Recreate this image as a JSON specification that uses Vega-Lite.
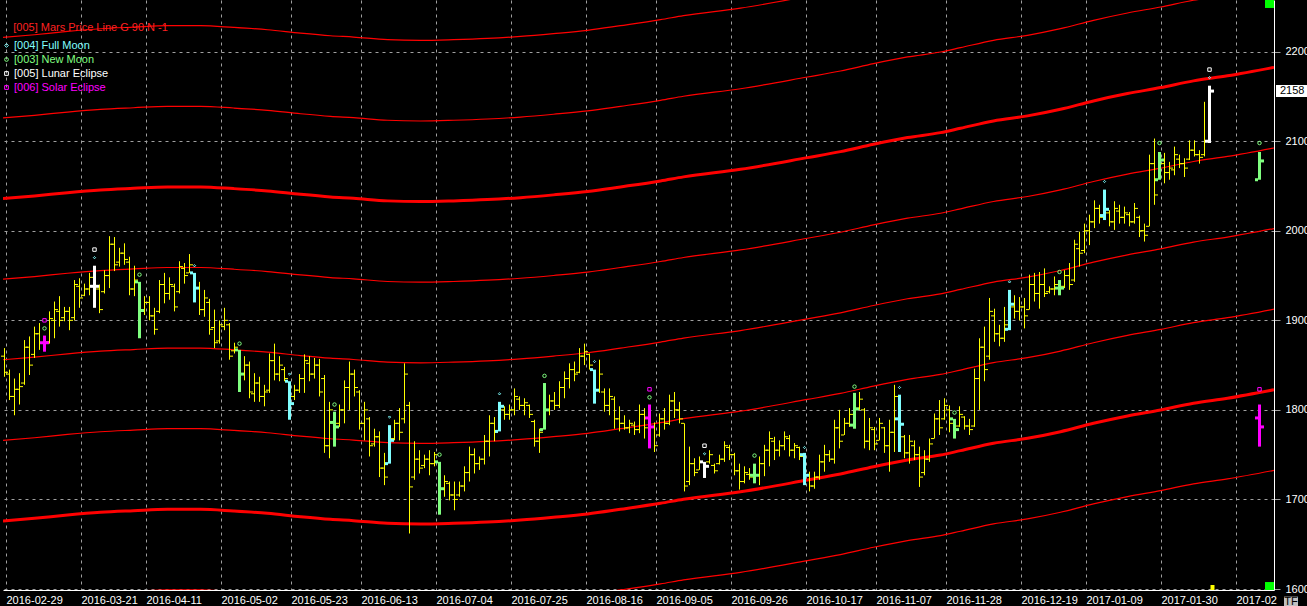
{
"$schema":"https://vega.github.io/schema/vega-lite/v6.json",
"width":1271,"height":590,"autosize":"none",
"padding":{"left":3,"top":0,"right":33,"bottom":16},
"background":"#000000",
"config":{"view":{"stroke":null},"font":"Liberation Sans","legend":{"labelColor":"#ffffff","titleColor":"#ff2020"}},
"datasets":{
"bars":[
{"i":0,"o":1860,"h":1869,"l":1837,"c":1842,"t":"y"},{"i":1,"o":1840,"h":1845,"l":1811,"c":1815,"t":"y"},{"i":2,"o":1815,"h":1835,"l":1794,"c":1823,"t":"y"},{"i":3,"o":1823,"h":1841,"l":1806,"c":1826,"t":"y"},{"i":4,"o":1830,"h":1878,"l":1828,"c":1870,"t":"y"},{"i":5,"o":1870,"h":1882,"l":1839,"c":1850,"t":"y"},{"i":6,"o":1862,"h":1893,"l":1858,"c":1885,"t":"y"},{"i":7,"o":1885,"h":1897,"l":1867,"c":1875,"t":"y"},{"i":8,"o":1875,"h":1883,"l":1865,"c":1875,"t":"s"},{"i":9,"o":1876,"h":1910,"l":1874,"c":1902,"t":"y"},
{"i":10,"o":1900,"h":1921,"l":1880,"c":1912,"t":"y"},{"i":11,"o":1910,"h":1927,"l":1893,"c":1900,"t":"y"},{"i":12,"o":1903,"h":1915,"l":1899,"c":1910,"t":"y"},{"i":13,"o":1910,"h":1915,"l":1889,"c":1900,"t":"y"},{"i":14,"o":1903,"h":1945,"l":1900,"c":1940,"t":"y"},{"i":15,"o":1938,"h":1947,"l":1914,"c":1925,"t":"y"},{"i":16,"o":1928,"h":1941,"l":1927,"c":1935,"t":"y"},{"i":17,"o":1935,"h":1953,"l":1928,"c":1948,"t":"y"},{"i":18,"o":1938,"h":1961,"l":1914,"c":1938,"t":"l"},{"i":19,"o":1935,"h":1940,"l":1908,"c":1912,"t":"y"},
{"i":20,"o":1932,"h":1956,"l":1930,"c":1950,"t":"y"},{"i":21,"o":1950,"h":1994,"l":1936,"c":1985,"t":"y"},{"i":22,"o":1985,"h":1993,"l":1955,"c":1962,"t":"y"},{"i":23,"o":1965,"h":1981,"l":1960,"c":1975,"t":"y"},{"i":24,"o":1975,"h":1986,"l":1962,"c":1968,"t":"y"},{"i":25,"o":1965,"h":1971,"l":1928,"c":1935,"t":"y"},{"i":26,"o":1935,"h":1961,"l":1927,"c":1945,"t":"y"},{"i":27,"o":1943,"h":1943,"l":1880,"c":1911,"t":"n"},{"i":28,"o":1912,"h":1927,"l":1906,"c":1920,"t":"y"},{"i":29,"o":1920,"h":1927,"l":1900,"c":1905,"t":"y"},
{"i":30,"o":1905,"h":1914,"l":1884,"c":1890,"t":"y"},{"i":31,"o":1910,"h":1945,"l":1908,"c":1940,"t":"y"},{"i":32,"o":1940,"h":1953,"l":1919,"c":1930,"t":"y"},{"i":33,"o":1930,"h":1948,"l":1923,"c":1940,"t":"y"},{"i":34,"o":1938,"h":1941,"l":1910,"c":1915,"t":"y"},{"i":35,"o":1932,"h":1966,"l":1930,"c":1960,"t":"y"},{"i":36,"o":1958,"h":1964,"l":1941,"c":1950,"t":"y"},{"i":37,"o":1953,"h":1974,"l":1953,"c":1962,"t":"y"},{"i":38,"o":1953,"h":1953,"l":1920,"c":1936,"t":"f"},{"i":39,"o":1936,"h":1943,"l":1906,"c":1912,"t":"y"},
{"i":40,"o":1912,"h":1934,"l":1904,"c":1925,"t":"y"},{"i":41,"o":1920,"h":1924,"l":1884,"c":1890,"t":"y"},{"i":42,"o":1892,"h":1912,"l":1869,"c":1875,"t":"y"},{"i":43,"o":1877,"h":1900,"l":1874,"c":1895,"t":"y"},{"i":44,"o":1893,"h":1914,"l":1889,"c":1900,"t":"y"},{"i":45,"o":1895,"h":1897,"l":1856,"c":1860,"t":"y"},{"i":46,"o":1866,"h":1875,"l":1863,"c":1870,"t":"y"},{"i":47,"o":1867,"h":1867,"l":1820,"c":1840,"t":"n"},{"i":48,"o":1840,"h":1860,"l":1833,"c":1850,"t":"y"},{"i":49,"o":1850,"h":1854,"l":1813,"c":1820,"t":"y"},
{"i":50,"o":1818,"h":1841,"l":1809,"c":1830,"t":"y"},{"i":51,"o":1830,"h":1837,"l":1809,"c":1815,"t":"y"},{"i":52,"o":1815,"h":1828,"l":1804,"c":1820,"t":"y"},{"i":53,"o":1822,"h":1863,"l":1819,"c":1855,"t":"y"},{"i":54,"o":1855,"h":1874,"l":1833,"c":1840,"t":"y"},{"i":55,"o":1840,"h":1860,"l":1832,"c":1850,"t":"y"},{"i":56,"o":1845,"h":1848,"l":1832,"c":1835,"t":"y"},{"i":57,"o":1832,"h":1832,"l":1789,"c":1807,"t":"f"},{"i":58,"o":1815,"h":1828,"l":1811,"c":1822,"t":"y"},{"i":59,"o":1822,"h":1840,"l":1819,"c":1835,"t":"y"},
{"i":60,"o":1835,"h":1862,"l":1819,"c":1855,"t":"y"},{"i":61,"o":1852,"h":1860,"l":1832,"c":1840,"t":"y"},{"i":62,"o":1840,"h":1858,"l":1835,"c":1850,"t":"y"},{"i":63,"o":1850,"h":1857,"l":1815,"c":1820,"t":"y"},{"i":64,"o":1835,"h":1839,"l":1752,"c":1760,"t":"y"},{"i":65,"o":1760,"h":1809,"l":1746,"c":1800,"t":"y"},{"i":66,"o":1786,"h":1798,"l":1759,"c":1781,"t":"n"},{"i":67,"o":1785,"h":1806,"l":1781,"c":1800,"t":"y"},{"i":68,"o":1800,"h":1833,"l":1785,"c":1825,"t":"y"},{"i":69,"o":1825,"h":1854,"l":1800,"c":1840,"t":"y"},
{"i":70,"o":1840,"h":1845,"l":1815,"c":1825,"t":"y"},{"i":71,"o":1820,"h":1822,"l":1778,"c":1785,"t":"y"},{"i":72,"o":1785,"h":1809,"l":1766,"c":1800,"t":"y"},{"i":73,"o":1790,"h":1792,"l":1748,"c":1760,"t":"y"},{"i":74,"o":1762,"h":1779,"l":1759,"c":1770,"t":"y"},{"i":75,"o":1770,"h":1776,"l":1725,"c":1735,"t":"y"},{"i":76,"o":1735,"h":1752,"l":1716,"c":1725,"t":"y"},{"i":77,"o":1740,"h":1783,"l":1740,"c":1766,"t":"f"},{"i":78,"o":1768,"h":1789,"l":1766,"c":1785,"t":"y"},{"i":79,"o":1785,"h":1802,"l":1766,"c":1775,"t":"y"},
{"i":80,"o":1790,"h":1852,"l":1785,"c":1840,"t":"y"},{"i":81,"o":1805,"h":1809,"l":1662,"c":1714,"t":"y"},{"i":82,"o":1725,"h":1765,"l":1722,"c":1745,"t":"y"},{"i":83,"o":1745,"h":1755,"l":1729,"c":1735,"t":"y"},{"i":84,"o":1738,"h":1750,"l":1735,"c":1745,"t":"y"},{"i":85,"o":1745,"h":1755,"l":1727,"c":1740,"t":"y"},{"i":86,"o":1740,"h":1753,"l":1737,"c":1750,"t":"y"},{"i":87,"o":1742,"h":1742,"l":1683,"c":1712,"t":"n"},{"i":88,"o":1712,"h":1727,"l":1703,"c":1720,"t":"y"},{"i":89,"o":1718,"h":1720,"l":1699,"c":1705,"t":"y"},
{"i":90,"o":1705,"h":1720,"l":1688,"c":1700,"t":"y"},{"i":91,"o":1705,"h":1720,"l":1703,"c":1715,"t":"y"},{"i":92,"o":1715,"h":1737,"l":1709,"c":1730,"t":"y"},{"i":93,"o":1730,"h":1759,"l":1720,"c":1750,"t":"y"},{"i":94,"o":1750,"h":1757,"l":1729,"c":1740,"t":"y"},{"i":95,"o":1740,"h":1748,"l":1733,"c":1745,"t":"y"},{"i":96,"o":1745,"h":1772,"l":1739,"c":1765,"t":"y"},{"i":97,"o":1765,"h":1794,"l":1748,"c":1785,"t":"y"},{"i":98,"o":1785,"h":1792,"l":1765,"c":1775,"t":"y"},{"i":99,"o":1776,"h":1809,"l":1776,"c":1804,"t":"f"},
{"i":100,"o":1800,"h":1804,"l":1789,"c":1795,"t":"y"},{"i":101,"o":1795,"h":1806,"l":1789,"c":1800,"t":"y"},{"i":102,"o":1800,"h":1824,"l":1794,"c":1815,"t":"y"},{"i":103,"o":1812,"h":1815,"l":1800,"c":1805,"t":"y"},{"i":104,"o":1805,"h":1813,"l":1794,"c":1808,"t":"y"},{"i":105,"o":1805,"h":1806,"l":1791,"c":1795,"t":"y"},{"i":106,"o":1787,"h":1789,"l":1759,"c":1765,"t":"y"},{"i":107,"o":1765,"h":1779,"l":1752,"c":1775,"t":"y"},{"i":108,"o":1778,"h":1830,"l":1778,"c":1800,"t":"n"},{"i":109,"o":1800,"h":1817,"l":1794,"c":1810,"t":"y"},
{"i":110,"o":1810,"h":1820,"l":1800,"c":1805,"t":"y"},{"i":111,"o":1805,"h":1832,"l":1802,"c":1825,"t":"y"},{"i":112,"o":1825,"h":1843,"l":1813,"c":1835,"t":"y"},{"i":113,"o":1835,"h":1852,"l":1824,"c":1845,"t":"y"},{"i":114,"o":1845,"h":1854,"l":1832,"c":1840,"t":"y"},{"i":115,"o":1842,"h":1869,"l":1841,"c":1860,"t":"y"},{"i":116,"o":1860,"h":1874,"l":1850,"c":1865,"t":"y"},{"i":117,"o":1862,"h":1863,"l":1845,"c":1850,"t":"y"},{"i":118,"o":1845,"h":1845,"l":1807,"c":1822,"t":"f"},{"i":119,"o":1822,"h":1856,"l":1819,"c":1840,"t":"y"},
{"i":120,"o":1820,"h":1824,"l":1798,"c":1805,"t":"y"},{"i":121,"o":1805,"h":1824,"l":1794,"c":1815,"t":"y"},{"i":122,"o":1812,"h":1815,"l":1779,"c":1790,"t":"y"},{"i":123,"o":1790,"h":1804,"l":1776,"c":1785,"t":"y"},{"i":124,"o":1785,"h":1794,"l":1778,"c":1780,"t":"y"},{"i":125,"o":1780,"h":1789,"l":1774,"c":1785,"t":"y"},{"i":126,"o":1783,"h":1787,"l":1772,"c":1778,"t":"y"},{"i":127,"o":1778,"h":1806,"l":1774,"c":1795,"t":"y"},{"i":128,"o":1795,"h":1802,"l":1768,"c":1780,"t":"y"},{"i":129,"o":1791,"h":1806,"l":1757,"c":1781,"t":"s"},
{"i":130,"o":1781,"h":1786,"l":1753,"c":1760,"t":"y"},{"i":131,"o":1772,"h":1796,"l":1770,"c":1790,"t":"y"},{"i":132,"o":1790,"h":1802,"l":1778,"c":1785,"t":"y"},{"i":133,"o":1785,"h":1817,"l":1783,"c":1810,"t":"y"},{"i":134,"o":1810,"h":1820,"l":1791,"c":1800,"t":"y"},{"i":135,"o":1800,"h":1809,"l":1785,"c":1790,"t":"y"},{"i":136,"o":1785,"h":1785,"l":1709,"c":1715,"t":"y"},{"i":137,"o":1720,"h":1759,"l":1716,"c":1740,"t":"y"},{"i":138,"o":1740,"h":1746,"l":1726,"c":1730,"t":"y"},{"i":139,"o":1733,"h":1748,"l":1733,"c":1742,"t":"y"},
{"i":140,"o":1742,"h":1742,"l":1724,"c":1737,"t":"l"},{"i":141,"o":1742,"h":1755,"l":1740,"c":1750,"t":"y"},{"i":142,"o":1738,"h":1740,"l":1729,"c":1732,"t":"y"},{"i":143,"o":1740,"h":1750,"l":1739,"c":1745,"t":"y"},{"i":144,"o":1745,"h":1765,"l":1742,"c":1760,"t":"y"},{"i":145,"o":1758,"h":1761,"l":1744,"c":1750,"t":"y"},{"i":146,"o":1750,"h":1752,"l":1727,"c":1732,"t":"y"},{"i":147,"o":1732,"h":1740,"l":1711,"c":1720,"t":"y"},{"i":148,"o":1720,"h":1737,"l":1718,"c":1730,"t":"y"},{"i":149,"o":1728,"h":1735,"l":1722,"c":1725,"t":"y"},
{"i":150,"o":1727,"h":1740,"l":1718,"c":1727,"t":"n"},{"i":151,"o":1727,"h":1748,"l":1716,"c":1740,"t":"y"},{"i":152,"o":1740,"h":1761,"l":1726,"c":1755,"t":"y"},{"i":153,"o":1755,"h":1776,"l":1737,"c":1768,"t":"y"},{"i":154,"o":1765,"h":1770,"l":1744,"c":1755,"t":"y"},{"i":155,"o":1755,"h":1766,"l":1748,"c":1760,"t":"y"},{"i":156,"o":1760,"h":1776,"l":1755,"c":1770,"t":"y"},{"i":157,"o":1768,"h":1772,"l":1748,"c":1755,"t":"y"},{"i":158,"o":1755,"h":1763,"l":1746,"c":1760,"t":"y"},{"i":159,"o":1758,"h":1759,"l":1744,"c":1748,"t":"y"},
{"i":160,"o":1750,"h":1752,"l":1716,"c":1727,"t":"f"},{"i":161,"o":1727,"h":1731,"l":1709,"c":1715,"t":"y"},{"i":162,"o":1715,"h":1731,"l":1712,"c":1725,"t":"y"},{"i":163,"o":1725,"h":1750,"l":1722,"c":1742,"t":"y"},{"i":164,"o":1742,"h":1761,"l":1731,"c":1750,"t":"y"},{"i":165,"o":1750,"h":1755,"l":1742,"c":1745,"t":"y"},{"i":166,"o":1745,"h":1789,"l":1740,"c":1780,"t":"y"},{"i":167,"o":1780,"h":1800,"l":1757,"c":1765,"t":"y"},{"i":168,"o":1772,"h":1791,"l":1772,"c":1785,"t":"y"},{"i":169,"o":1785,"h":1802,"l":1781,"c":1795,"t":"y"},
{"i":170,"o":1783,"h":1819,"l":1779,"c":1801,"t":"n"},{"i":171,"o":1802,"h":1820,"l":1800,"c":1812,"t":"y"},{"i":172,"o":1800,"h":1802,"l":1757,"c":1765,"t":"y"},{"i":173,"o":1765,"h":1791,"l":1755,"c":1780,"t":"y"},{"i":174,"o":1778,"h":1781,"l":1755,"c":1762,"t":"y"},{"i":175,"o":1766,"h":1791,"l":1766,"c":1785,"t":"y"},{"i":176,"o":1780,"h":1781,"l":1752,"c":1760,"t":"y"},{"i":177,"o":1760,"h":1789,"l":1731,"c":1775,"t":"y"},{"i":178,"o":1775,"h":1828,"l":1753,"c":1815,"t":"y"},{"i":179,"o":1790,"h":1817,"l":1753,"c":1784,"t":"f"},
{"i":180,"o":1770,"h":1772,"l":1746,"c":1752,"t":"y"},{"i":181,"o":1752,"h":1772,"l":1740,"c":1765,"t":"y"},{"i":182,"o":1760,"h":1766,"l":1744,"c":1750,"t":"y"},{"i":183,"o":1750,"h":1759,"l":1714,"c":1725,"t":"y"},{"i":184,"o":1730,"h":1755,"l":1727,"c":1745,"t":"y"},{"i":185,"o":1745,"h":1768,"l":1742,"c":1762,"t":"y"},{"i":186,"o":1768,"h":1796,"l":1768,"c":1790,"t":"y"},{"i":187,"o":1790,"h":1811,"l":1772,"c":1780,"t":"y"},{"i":188,"o":1790,"h":1813,"l":1789,"c":1805,"t":"y"},{"i":189,"o":1800,"h":1805,"l":1775,"c":1785,"t":"y"},
{"i":190,"o":1790,"h":1790,"l":1768,"c":1778,"t":"n"},{"i":191,"o":1782,"h":1804,"l":1781,"c":1795,"t":"y"},{"i":192,"o":1792,"h":1793,"l":1778,"c":1782,"t":"y"},{"i":193,"o":1782,"h":1790,"l":1772,"c":1778,"t":"y"},{"i":194,"o":1782,"h":1846,"l":1781,"c":1835,"t":"y"},{"i":195,"o":1835,"h":1880,"l":1800,"c":1870,"t":"y"},{"i":196,"o":1870,"h":1893,"l":1832,"c":1845,"t":"y"},{"i":197,"o":1860,"h":1925,"l":1856,"c":1910,"t":"y"},{"i":198,"o":1905,"h":1913,"l":1876,"c":1885,"t":"y"},{"i":199,"o":1885,"h":1895,"l":1871,"c":1880,"t":"y"},
{"i":200,"o":1880,"h":1915,"l":1876,"c":1895,"t":"y"},{"i":201,"o":1890,"h":1934,"l":1889,"c":1918,"t":"f"},{"i":202,"o":1915,"h":1928,"l":1902,"c":1910,"t":"y"},{"i":203,"o":1910,"h":1926,"l":1900,"c":1915,"t":"y"},{"i":204,"o":1915,"h":1925,"l":1891,"c":1905,"t":"y"},{"i":205,"o":1912,"h":1951,"l":1912,"c":1940,"t":"y"},{"i":206,"o":1940,"h":1953,"l":1921,"c":1930,"t":"y"},{"i":207,"o":1930,"h":1954,"l":1913,"c":1940,"t":"y"},{"i":208,"o":1940,"h":1958,"l":1926,"c":1930,"t":"y"},{"i":209,"o":1932,"h":1938,"l":1930,"c":1935,"t":"y"},
{"i":210,"o":1935,"h":1949,"l":1928,"c":1940,"t":"y"},{"i":211,"o":1936,"h":1945,"l":1928,"c":1936,"t":"n"},{"i":212,"o":1938,"h":1956,"l":1936,"c":1950,"t":"y"},{"i":213,"o":1950,"h":1964,"l":1934,"c":1940,"t":"y"},{"i":214,"o":1945,"h":1990,"l":1943,"c":1985,"t":"y"},{"i":215,"o":1980,"h":1999,"l":1960,"c":1975,"t":"y"},{"i":216,"o":1978,"h":2008,"l":1975,"c":2000,"t":"y"},{"i":217,"o":2000,"h":2018,"l":1984,"c":2010,"t":"y"},{"i":218,"o":2010,"h":2034,"l":2003,"c":2025,"t":"y"},{"i":219,"o":2025,"h":2029,"l":2008,"c":2015,"t":"y"},
{"i":220,"o":2017,"h":2046,"l":2012,"c":2024,"t":"f"},{"i":221,"o":2020,"h":2023,"l":2005,"c":2010,"t":"y"},{"i":222,"o":2010,"h":2033,"l":2001,"c":2025,"t":"y"},{"i":223,"o":2022,"h":2029,"l":2008,"c":2015,"t":"y"},{"i":224,"o":2015,"h":2027,"l":2008,"c":2020,"t":"y"},{"i":225,"o":2018,"h":2021,"l":2005,"c":2010,"t":"y"},{"i":226,"o":2010,"h":2031,"l":2008,"c":2025,"t":"y"},{"i":227,"o":2015,"h":2017,"l":1993,"c":2000,"t":"y"},{"i":228,"o":2000,"h":2008,"l":1988,"c":1995,"t":"y"},{"i":229,"o":2005,"h":2085,"l":2005,"c":2075,"t":"y"},
{"i":230,"o":2075,"h":2103,"l":2029,"c":2040,"t":"y"},{"i":231,"o":2057,"h":2088,"l":2057,"c":2079,"t":"n"},{"i":232,"o":2075,"h":2087,"l":2053,"c":2065,"t":"y"},{"i":233,"o":2065,"h":2077,"l":2057,"c":2070,"t":"y"},{"i":234,"o":2068,"h":2094,"l":2062,"c":2085,"t":"y"},{"i":235,"o":2080,"h":2085,"l":2070,"c":2075,"t":"y"},{"i":236,"o":2075,"h":2081,"l":2060,"c":2070,"t":"y"},{"i":237,"o":2080,"h":2101,"l":2079,"c":2090,"t":"y"},{"i":238,"o":2090,"h":2101,"l":2083,"c":2085,"t":"y"},{"i":239,"o":2085,"h":2090,"l":2075,"c":2082,"t":"y"},
{"i":240,"o":2085,"h":2144,"l":2083,"c":2100,"t":"y"},{"i":241,"o":2100,"h":2162,"l":2098,"c":2156,"t":"l"},
{"i":251,"o":2057,"h":2088,"l":2057,"c":2078,"t":"n"},{"i":251,"o":1791,"h":1806,"l":1759,"c":1781,"t":"s"}
],
"ev":[
{"i":18,"v":1970,"e":"[004] Full Moon"},{"i":38,"v":1961,"e":"[004] Full Moon"},{"i":57,"v":1840,"e":"[004] Full Moon"},{"i":77,"v":1792,"e":"[004] Full Moon"},{"i":99,"v":1818,"e":"[004] Full Moon"},{"i":118,"v":1854,"e":"[004] Full Moon"},{"i":140,"v":1751,"e":"[004] Full Moon"},{"i":160,"v":1758,"e":"[004] Full Moon"},{"i":179,"v":1825,"e":"[004] Full Moon"},{"i":201,"v":1943,"e":"[004] Full Moon"},{"i":220,"v":2055,"e":"[004] Full Moon"},{"i":241,"v":2171,"e":"[004] Full Moon"},
{"i":8,"v":1891,"e":"[003] New Moon"},{"i":27,"v":1951,"e":"[003] New Moon"},{"i":47,"v":1874,"e":"[003] New Moon"},{"i":66,"v":1806,"e":"[003] New Moon"},{"i":87,"v":1750,"e":"[003] New Moon"},{"i":108,"v":1838,"e":"[003] New Moon"},{"i":129,"v":1814,"e":"[003] New Moon"},{"i":150,"v":1749,"e":"[003] New Moon"},{"i":170,"v":1826,"e":"[003] New Moon"},{"i":190,"v":1797,"e":"[003] New Moon"},{"i":211,"v":1954,"e":"[003] New Moon"},{"i":231,"v":2098,"e":"[003] New Moon"},{"i":251,"v":2098,"e":"[003] New Moon"},
{"i":18,"v":1979,"e":"[005] Lunar Eclipse"},{"i":140,"v":1760,"e":"[005] Lunar Eclipse"},{"i":241,"v":2180,"e":"[005] Lunar Eclipse"},
{"i":8,"v":1900,"e":"[006] Solar Eclipse"},{"i":129,"v":1823,"e":"[006] Solar Eclipse"},{"i":251,"v":1823,"e":"[006] Solar Eclipse"}
],
"mars":[
{"i":-0.3,"p0":1586,"p1":1676,"p2":1766,"p3":1856,"p4":1946,"p5":2036,"p6":2126,"p7":2216},
{"i":6,"p0":1588.9,"p1":1678.9,"p2":1768.9,"p3":1858.9,"p4":1948.9,"p5":2038.9,"p6":2128.9,"p7":2218.9},
{"i":12.6,"p0":1592.6,"p1":1682.6,"p2":1772.6,"p3":1862.6,"p4":1952.6,"p5":2042.6,"p6":2132.6,"p7":2222.6},
{"i":19.2,"p0":1595.6,"p1":1685.6,"p2":1775.6,"p3":1865.6,"p4":1955.6,"p5":2045.6,"p6":2135.6,"p7":2225.6},
{"i":25.8,"p0":1597.4,"p1":1687.4,"p2":1777.4,"p3":1867.4,"p4":1957.4,"p5":2047.4,"p6":2137.4,"p7":2227.4},
{"i":32.6,"p0":1599,"p1":1689,"p2":1779,"p3":1869,"p4":1959,"p5":2049,"p6":2139,"p7":2229},
{"i":39.2,"p0":1599,"p1":1689,"p2":1779,"p3":1869,"p4":1959,"p5":2049,"p6":2139,"p7":2229},
{"i":45.8,"p0":1597.1,"p1":1687.1,"p2":1777.1,"p3":1867.1,"p4":1957.1,"p5":2047.1,"p6":2137.1,"p7":2227.1},
{"i":52.6,"p0":1594.5,"p1":1684.5,"p2":1774.5,"p3":1864.5,"p4":1954.5,"p5":2044.5,"p6":2134.5,"p7":2224.5},
{"i":59.2,"p0":1590.7,"p1":1680.7,"p2":1770.7,"p3":1860.7,"p4":1950.7,"p5":2040.7,"p6":2130.7,"p7":2220.7},
{"i":65.2,"p0":1587.8,"p1":1677.8,"p2":1767.8,"p3":1857.8,"p4":1947.8,"p5":2037.8,"p6":2127.8,"p7":2217.8},
{"i":69.8,"p0":1586.3,"p1":1676.3,"p2":1766.3,"p3":1856.3,"p4":1946.3,"p5":2036.3,"p6":2126.3,"p7":2216.3},
{"i":76.6,"p0":1583.4,"p1":1673.4,"p2":1763.4,"p3":1853.4,"p4":1943.4,"p5":2033.4,"p6":2123.4,"p7":2213.4},
{"i":83.2,"p0":1582.6,"p1":1672.6,"p2":1762.6,"p3":1852.6,"p4":1942.6,"p5":2032.6,"p6":2122.6,"p7":2212.6},
{"i":89.8,"p0":1583.4,"p1":1673.4,"p2":1763.4,"p3":1853.4,"p4":1943.4,"p5":2033.4,"p6":2123.4,"p7":2213.4},
{"i":96.6,"p0":1584.8,"p1":1674.8,"p2":1764.8,"p3":1854.8,"p4":1944.8,"p5":2034.8,"p6":2124.8,"p7":2214.8},
{"i":103.2,"p0":1587,"p1":1677,"p2":1767,"p3":1857,"p4":1947,"p5":2037,"p6":2127,"p7":2217},
{"i":109.8,"p0":1590.1,"p1":1680.1,"p2":1770.1,"p3":1860.1,"p4":1950.1,"p5":2040.1,"p6":2130.1,"p7":2220.1},
{"i":116.6,"p0":1593.8,"p1":1683.8,"p2":1773.8,"p3":1863.8,"p4":1953.8,"p5":2043.8,"p6":2133.8,"p7":2223.8},
{"i":123.2,"p0":1599,"p1":1689,"p2":1779,"p3":1869,"p4":1959,"p5":2049,"p6":2139,"p7":2229},
{"i":131.2,"p0":1605.7,"p1":1695.7,"p2":1785.7,"p3":1875.7,"p4":1965.7,"p5":2055.7,"p6":2145.7,"p7":2235.7},
{"i":135.8,"p0":1610.2,"p1":1700.2,"p2":1790.2,"p3":1880.2,"p4":1970.2,"p5":2060.2,"p6":2150.2,"p7":2240.2},
{"i":147.2,"p0":1618.6,"p1":1708.6,"p2":1798.6,"p3":1888.6,"p4":1978.6,"p5":2068.6,"p6":2158.6,"p7":2248.6},
{"i":160.6,"p0":1631.7,"p1":1721.7,"p2":1811.7,"p3":1901.7,"p4":1991.7,"p5":2081.7,"p6":2171.7,"p7":2261.7},
{"i":167.2,"p0":1638.4,"p1":1728.4,"p2":1818.4,"p3":1908.4,"p4":1998.4,"p5":2088.4,"p6":2178.4,"p7":2268.4},
{"i":173.8,"p0":1646.6,"p1":1736.6,"p2":1826.6,"p3":1916.6,"p4":2006.6,"p5":2096.6,"p6":2186.6,"p7":2276.6},
{"i":180.6,"p0":1654.1,"p1":1744.1,"p2":1834.1,"p3":1924.1,"p4":2014.1,"p5":2104.1,"p6":2194.1,"p7":2284.1},
{"i":187.2,"p0":1659.6,"p1":1749.6,"p2":1839.6,"p3":1929.6,"p4":2019.6,"p5":2109.6,"p6":2199.6,"p7":2289.6},
{"i":191.2,"p0":1664.5,"p1":1754.5,"p2":1844.5,"p3":1934.5,"p4":2024.5,"p5":2114.5,"p6":2204.5,"p7":2294.5},
{"i":197.8,"p0":1672.7,"p1":1762.7,"p2":1852.7,"p3":1942.7,"p4":2032.7,"p5":2122.7,"p6":2212.7,"p7":2302.7},
{"i":204.6,"p0":1678.3,"p1":1768.3,"p2":1858.3,"p3":1948.3,"p4":2038.3,"p5":2128.3,"p6":2218.3,"p7":2308.3},
{"i":211.2,"p0":1685.7,"p1":1775.7,"p2":1865.7,"p3":1955.7,"p4":2045.7,"p5":2135.7,"p6":2225.7,"p7":2315.7},
{"i":217.8,"p0":1695,"p1":1785,"p2":1875,"p3":1965,"p4":2055,"p5":2145,"p6":2235,"p7":2325},
{"i":224.6,"p0":1703.2,"p1":1793.2,"p2":1883.2,"p3":1973.2,"p4":2063.2,"p5":2153.2,"p6":2243.2,"p7":2333.2},
{"i":231.2,"p0":1709.9,"p1":1799.9,"p2":1889.9,"p3":1979.9,"p4":2069.9,"p5":2159.9,"p6":2249.9,"p7":2339.9},
{"i":237.8,"p0":1717.4,"p1":1807.4,"p2":1897.4,"p3":1987.4,"p4":2077.4,"p5":2167.4,"p6":2257.4,"p7":2347.4},
{"i":244.6,"p0":1723,"p1":1813,"p2":1903,"p3":1993,"p4":2083,"p5":2173,"p6":2263,"p7":2353},
{"i":253.9,"p0":1732.5,"p1":1822.5,"p2":1912.5,"p3":2002.5,"p4":2092.5,"p5":2182.5,"p6":2272.5,"p7":2362.5}
],
"last":[{"x1":254.3,"x2":261,"y1":2149.5,"y2":2162.8,"tx":255.1,"v":2156,"lab":"2158"}],
"ui":[
{"x1":252.1,"x2":253.9,"y1":2248.8,"y2":2257.7,"c":"#00ff00"},
{"x1":252.1,"x2":253.9,"y1":1598.9,"y2":1607.8,"c":"#00ff00"},
{"x1":241.2,"x2":242.0,"y1":1598.9,"y2":1604.5,"c":"#ffff00"},
{"x1":255.9,"x2":258.7,"y1":1581,"y2":1591.5,"c":"#c0c0c0"}
],
"uitext":[{"x":257.3,"y":1586,"s":"TF"}]
},
"layer":[
{"data":{"name":"mars"},
 "transform":[{"fold":["p0","p1","p2","p3","p4","p5","p6","p7"],"as":["k","v"]}],
 "mark":{"type":"line","clip":true,"interpolate":"monotone"},
 "encoding":{
  "x":{"field":"i","type":"quantitative","title":null,"scale":{"domain":[-0.3,253.9],"nice":false,"zero":false},
   "axis":{"orient":"bottom","values":[0.3,15.3,28.3,43.3,57.3,71.3,86.3,101.3,116.3,130.3,145.3,160.3,174.3,188.3,203.3,216.3,231.3,246.3],
    "labelExpr":"['2016-02-29','2016-03-21','2016-04-11','2016-05-02','2016-05-23','2016-06-13','2016-07-04','2016-07-25','2016-08-16','2016-09-05','2016-09-26','2016-10-17','2016-11-07','2016-11-28','2016-12-19','2017-01-09','2017-01-30','2017-02'][indexof([0.3,15.3,28.3,43.3,57.3,71.3,86.3,101.3,116.3,130.3,145.3,160.3,174.3,188.3,203.3,216.3,231.3,246.3], datum.value)]",
    "grid":true,"gridColor":"#a0a0a0","gridDash":[3,4],"gridWidth":1,"domain":true,"domainColor":"#ffffff","domainWidth":1,"ticks":false,
    "labelColor":"#ffffff","labelFont":"Liberation Sans","labelFontSize":11,"labelAlign":"left","labelBaseline":"top","labelPadding":4,"labelOffset":0,
    "labelFlush":false,"labelOverlap":false,"labelBound":false}},
  "y":{"field":"v","type":"quantitative","title":null,"scale":{"domain":[1598.9,2257.7],"nice":false,"zero":false},
   "axis":{"orient":"right","values":[1600,1700,1800,1900,2000,2100,2200],"format":"d","grid":true,"gridColor":"#a0a0a0","gridDash":[3,4],"gridWidth":1,
    "domain":true,"domainColor":"#ffffff","domainWidth":1,"ticks":true,"tickColor":"#a0a0a0","tickSize":6,
    "labelColor":"#ffffff","labelFont":"Liberation Sans","labelFontSize":11,"labelPadding":5,"labelFlush":false,"labelOverlap":false,"labelBound":false}},
  "detail":{"field":"k"},
  "color":{"value":"#ff0000"},
  "strokeWidth":{"condition":{"test":"datum.k==='p1'||datum.k==='p5'","value":3},"value":1.2}
 }},
{"mark":{"type":"rule","color":"#ffffff","strokeWidth":1},"encoding":{"x":{"datum":-0.2,"type":"quantitative"}}},
{"data":{"name":"bars"},
 "mark":{"type":"rule","strokeCap":"butt"},
 "encoding":{"x":{"field":"i","type":"quantitative","title":null},"y":{"field":"l","type":"quantitative","title":null},"y2":{"field":"h"},
  "stroke":{"condition":[{"test":"datum.t==='f'","value":"#80ffff"},{"test":"datum.t==='n'","value":"#80ff80"},{"test":"datum.t==='l'","value":"#ffffff"},{"test":"datum.t==='s'","value":"#ff00ff"}],"value":"#ffff00"},
  "strokeWidth":{"condition":{"test":"datum.t!=='y'","value":3},"value":1}}},
{"data":{"name":"bars"},"transform":[{"filter":"datum.t==='y'"}],
 "mark":{"type":"rule","strokeCap":"butt","color":"#ffff00","strokeWidth":1,"xOffset":-3.5,"x2Offset":-0.5},
 "encoding":{"x":{"field":"i","type":"quantitative","title":null},"x2":{"field":"i"},"y":{"field":"o","type":"quantitative","title":null}}},
{"data":{"name":"bars"},"transform":[{"filter":"datum.t==='y'"}],
 "mark":{"type":"rule","strokeCap":"butt","color":"#ffff00","strokeWidth":1,"xOffset":0.5,"x2Offset":3.5},
 "encoding":{"x":{"field":"i","type":"quantitative","title":null},"x2":{"field":"i"},"y":{"field":"c","type":"quantitative","title":null}}},
{"data":{"name":"bars"},"transform":[{"filter":"datum.t!=='y'"}],
 "mark":{"type":"rule","strokeCap":"butt","strokeWidth":3,"xOffset":-4.5,"x2Offset":-1.5},
 "encoding":{"x":{"field":"i","type":"quantitative","title":null},"x2":{"field":"i"},"y":{"field":"o","type":"quantitative","title":null},
  "stroke":{"condition":[{"test":"datum.t==='f'","value":"#80ffff"},{"test":"datum.t==='n'","value":"#80ff80"},{"test":"datum.t==='l'","value":"#ffffff"}],"value":"#ff00ff"}}},
{"data":{"name":"bars"},"transform":[{"filter":"datum.t!=='y'"}],
 "mark":{"type":"rule","strokeCap":"butt","strokeWidth":3,"xOffset":1.5,"x2Offset":4.5},
 "encoding":{"x":{"field":"i","type":"quantitative","title":null},"x2":{"field":"i"},"y":{"field":"c","type":"quantitative","title":null},
  "stroke":{"condition":[{"test":"datum.t==='f'","value":"#80ffff"},{"test":"datum.t==='n'","value":"#80ff80"},{"test":"datum.t==='l'","value":"#ffffff"}],"value":"#ff00ff"}}},
{"data":{"name":"ev"},
 "mark":{"type":"point","filled":false,"strokeWidth":1,"opacity":1},
 "encoding":{"x":{"field":"i","type":"quantitative","title":null},"y":{"field":"v","type":"quantitative","title":null},
  "color":{"field":"e","type":"nominal","title":"\u200b\u00a0\u00a0\u00a0\u00a0[005] Mars Price Line G 90 N -1",
   "scale":{"domain":["[004] Full Moon","[003] New Moon","[005] Lunar Eclipse","[006] Solar Eclipse"],"range":["#80ffff","#80ff80","#ffffff","#ff00ff"]},
   "legend":{"orient":"none","legendX":-2,"legendY":22,"direction":"vertical","padding":0,"offset":0,
    "titleColor":"#ff2020","titleFont":"Liberation Sans","titleFontSize":11,"titleFontWeight":"normal","titlePadding":7,"titleLimit":400,
    "labelColor":{"expr":"datum.value==='[004] Full Moon'?'#80ffff':datum.value==='[003] New Moon'?'#80ff80':datum.value==='[005] Lunar Eclipse'?'#ffffff':'#ff00ff'"},
    "labelFont":"Liberation Sans","labelFontSize":11,"labelOffset":2,"labelLimit":300,"rowPadding":2,"symbolSize":14,"symbolStrokeWidth":1}},
  "shape":{"field":"e","type":"nominal","title":"\u200b\u00a0\u00a0\u00a0\u00a0[005] Mars Price Line G 90 N -1",
   "scale":{"domain":["[004] Full Moon","[003] New Moon","[005] Lunar Eclipse","[006] Solar Eclipse"],"range":["M0,-1L1,0L0,1L-1,0Z","circle","square","square"]},
   "legend":{"orient":"none","legendX":-2,"legendY":22,"direction":"vertical","padding":0,"offset":0,
    "titleColor":"#ff2020","titleFont":"Liberation Sans","titleFontSize":11,"titleFontWeight":"normal","titlePadding":7,"titleLimit":400,
    "labelColor":{"expr":"datum.value==='[004] Full Moon'?'#80ffff':datum.value==='[003] New Moon'?'#80ff80':datum.value==='[005] Lunar Eclipse'?'#ffffff':'#ff00ff'"},
    "labelFont":"Liberation Sans","labelFontSize":11,"labelOffset":2,"labelLimit":300,"rowPadding":2,"symbolSize":14,"symbolStrokeWidth":1}},
  "size":{"condition":{"test":"datum.e==='[004] Full Moon'","value":5},"value":12}}},
{"data":{"name":"last"},"mark":{"type":"rect","color":"#ffffff"},
 "encoding":{"x":{"field":"x1","type":"quantitative","title":null},"x2":{"field":"x2"},"y":{"field":"y1","type":"quantitative","title":null},"y2":{"field":"y2"}}},
{"data":{"name":"last"},"mark":{"type":"text","align":"left","baseline":"middle","font":"Liberation Sans","fontSize":11,"color":"#000000"},
 "encoding":{"x":{"field":"tx","type":"quantitative","title":null},"y":{"field":"v","type":"quantitative","title":null},"text":{"field":"lab"}}},
{"data":{"name":"ui"},"mark":{"type":"rect"},
 "encoding":{"x":{"field":"x1","type":"quantitative","title":null},"x2":{"field":"x2"},"y":{"field":"y1","type":"quantitative","title":null},"y2":{"field":"y2"},"color":{"field":"c","type":"nominal","scale":null,"legend":null}}},
{"data":{"name":"uitext"},"mark":{"type":"text","align":"center","baseline":"middle","font":"Liberation Sans","fontSize":11,"color":"#000000"},
 "encoding":{"x":{"field":"x","type":"quantitative","title":null},"y":{"field":"y","type":"quantitative","title":null},"text":{"field":"s"}}}
]
}
